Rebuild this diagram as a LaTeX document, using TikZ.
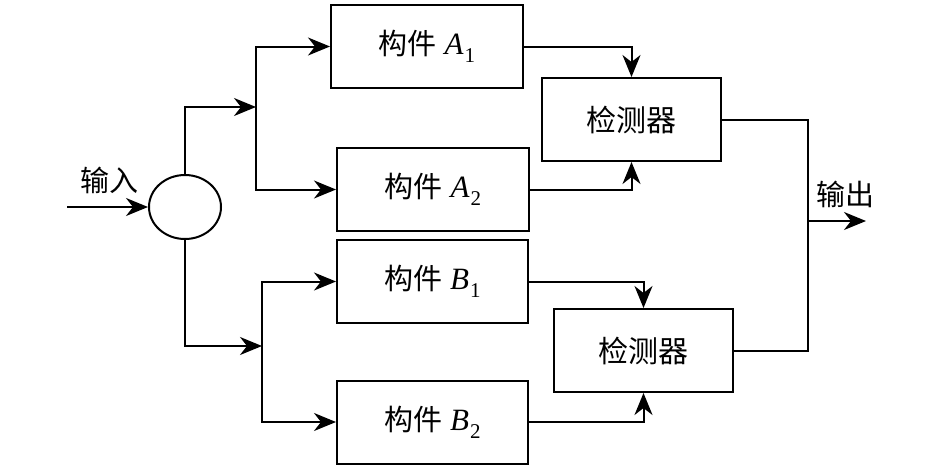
\documentclass[tikz,border=0pt]{standalone}
\usepackage{fontspec}
\setmainfont{Liberation Serif}
\newfontfamily\cjk{Noto Sans CJK SC}
\usetikzlibrary{arrows.meta,shapes.geometric}
\newcommand{\mysub}[1]{\kern1pt\raisebox{-0.25em}{\fontsize{21}{23}\selectfont #1}}
\begin{document}
\begin{tikzpicture}[x=1pt,y=-1pt,
  line width=2pt,
  >={Stealth[length=22pt,width=18pt,inset=7pt]},
  box/.style={draw, minimum height=83pt, inner sep=0pt, font=\fontsize{31}{33}\selectfont},
  lbl/.style={font=\fontsize{29}{31}\selectfont\cjk, inner sep=0pt},
  conn/.style={->}]
\useasboundingbox (0,0) rectangle (946,467);
\fill[white] (0,0) rectangle (946,467);
% nodes
\node[draw, ellipse, minimum width=72pt, minimum height=64pt, inner sep=0pt] (c) at (185,207) {};
\node[box, minimum width=192pt] (a1) at (427,46.5) {{\cjk\fontsize{29}{31}\selectfont 构件} \textit{A}\mysub{1}};
\node[box, minimum width=192pt] (a2) at (433,189.5) {{\cjk\fontsize{29}{31}\selectfont 构件} \textit{A}\mysub{2}};
\node[box, minimum width=191pt] (b1) at (432.5,281.5) {{\cjk\fontsize{29}{31}\selectfont 构件} \textit{B}\mysub{1}};
\node[box, minimum width=191pt] (b2) at (432.5,422) {{\cjk\fontsize{29}{31}\selectfont 构件} \textit{B}\mysub{2}};
\node[box, minimum width=179pt, font=\fontsize{30}{32}\selectfont\cjk] (d1) at (631.5,119.5) {检测器};
\node[box, minimum width=179pt, font=\fontsize{30}{32}\selectfont\cjk] (d2) at (643.5,350.5) {检测器};
\node[lbl] (in) at (109,180) {输入};
\node[lbl] (out) at (845,194) {输出};
% coordinates
\coordinate (s) at (67,207);
\coordinate (j1) at (256,107);
\coordinate (j2) at (262,346);
\coordinate (m) at (808,221);
\coordinate (e) at (866,221);
% connectors
\draw[conn] (s) -- (c.west);
\draw[conn] (c.north) |- (j1);
\draw[conn] (j1) |- (a1.west);
\draw[conn] (j1) |- (a2.west);
\draw[conn] (c.south) |- (j2);
\draw[conn] (j2) |- (b1.west);
\draw[conn] (j2) |- (b2.west);
\draw[conn] (a1.east) -| (d1.north);
\draw[conn] (a2.east) -| (d1.south);
\draw[conn] (b1.east) -| (d2.north);
\draw[conn] (b2.east) -| (d2.south);
\draw (d1.east) -| (m);
\draw (d2.east) -| (m);
\draw[conn] (m) -- (e);
\end{tikzpicture}
\end{document}
